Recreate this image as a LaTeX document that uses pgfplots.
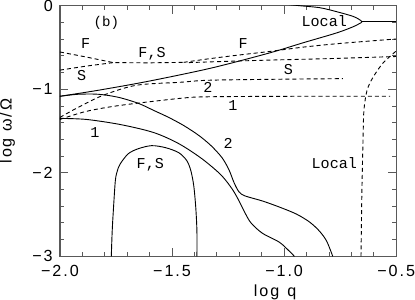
\documentclass[border=0pt]{standalone}
\usepackage{fontspec}
\setmainfont{Liberation Sans}
\newfontfamily\tickfont[LetterSpace=12]{Liberation Sans}
\newfontfamily\lblfont{Liberation Mono}
\usepackage{pgfplots}
\pgfplotsset{compat=1.18}
\newcommand{\mn}{−}
\begin{document}
\begin{tikzpicture}
\begin{axis}[
  scale only axis, width=334bp, height=249bp,
  xmin=-2, xmax=-0.5, ymin=-3, ymax=0,
  xtick={-2,-1.5,-1,-0.5}, xticklabels={{\mn2.0},{\mn1.5},{\mn1.0},{\mn0.5}},
  ytick={-3,-2,-1,0}, yticklabels={{\mn3},{\mn2},{\mn1},0},
  minor x tick num=4, minor y tick num=4,
  tick align=inside, major tick length=8bp, minor tick length=4bp,
  axis line style={black!65, line width=1.1bp},
  every tick/.style={black!65, line width=0.9bp},
  ticklabel style={font=\tickfont\fontsize{16bp}{19bp}\selectfont, inner sep=0pt},
  xticklabel style={yshift=-9bp},
  yticklabel style={xshift=-7bp},
  xlabel={log\hspace{8bp}q}, ylabel={log ω/Ω},
  label style={font=\tickfont\fontsize{16bp}{19bp}\selectfont, inner sep=0pt},
  xlabel style={at={(axis description cs:0.64,-0.1124)}, anchor=north},
  ylabel style={at={(axis description cs:-0.156,0.5)}, anchor=center},
]
% solid curves
\addplot[black, line width=0.9bp, smooth, tension=0.5] coordinates {
(-2.000,-1.084) (-1.829,-1.012) (-1.605,-0.904) (-1.326,-0.747) (-1.066,-0.566)
(-0.918,-0.446) (-0.765,-0.325) (-0.693,-0.253) (-0.666,-0.217) (-0.653,-0.193)
(-0.666,-0.163) (-0.693,-0.127) (-0.765,-0.072) (-0.841,-0.024) (-0.931,0.0) (-1.0,0.02)};
\addplot[black, line width=0.9bp] coordinates {(-0.653,-0.193) (-0.5,-0.193)};
\addplot[black, line width=0.9bp, smooth, tension=0.5] coordinates {
(-2.000,-1.084) (-1.919,-1.060) (-1.829,-1.060) (-1.740,-1.096) (-1.650,-1.169)
(-1.582,-1.253) (-1.515,-1.337) (-1.448,-1.434) (-1.380,-1.554) (-1.326,-1.675)
(-1.277,-1.819) (-1.246,-1.964) (-1.223,-2.120) (-1.201,-2.229) (-1.174,-2.277)
(-1.097,-2.337) (-1.021,-2.410) (-0.945,-2.494) (-0.886,-2.590) (-0.842,-2.699)
(-0.810,-2.819) (-0.783,-3.000)};
\addplot[black, line width=0.9bp, smooth, tension=0.5] coordinates {
(-2.000,-1.349) (-1.883,-1.361) (-1.731,-1.422) (-1.582,-1.518) (-1.470,-1.651)
(-1.367,-1.831) (-1.282,-2.024) (-1.232,-2.193) (-1.201,-2.337) (-1.174,-2.482)
(-1.147,-2.602) (-1.097,-2.723) (-1.021,-2.831) (-0.976,-2.940) (-0.954,-3.000)};
\addplot[black, line width=0.9bp, smooth, tension=0.5] coordinates {
(-1.771,-3.000) (-1.767,-2.699) (-1.762,-2.458) (-1.753,-2.096) (-1.744,-1.976)
(-1.731,-1.892) (-1.695,-1.771) (-1.650,-1.711) (-1.591,-1.675) (-1.529,-1.699)
(-1.470,-1.759) (-1.434,-1.855) (-1.416,-1.976) (-1.403,-2.157) (-1.394,-2.422)
(-1.389,-2.699) (-1.389,-3.000)};
% dashed curves
\addplot[black, line width=0.9bp, dash pattern=on 4bp off 3bp] coordinates {
(-2,-0.554) (-1.883,-0.614) (-1.762,-0.681) (-1.605,-0.684) (-1.448,-0.678)};
\addplot[black, line width=0.9bp, dash pattern=on 4bp off 3bp, smooth, tension=0.5] coordinates {
(-1.448,-0.678) (-1.335,-0.635) (-1.201,-0.590) (-1.066,-0.548) (-0.909,-0.494)
(-0.752,-0.452) (-0.5,-0.398)};
\addplot[black, line width=0.9bp, dash pattern=on 4bp off 3bp] coordinates {
(-2,-0.771) (-1.883,-0.723) (-1.762,-0.681)};
\addplot[black, line width=0.9bp, dash pattern=on 4bp off 3bp, smooth, tension=0.5] coordinates {
(-1.425,-0.681) (-1.291,-0.669) (-1.066,-0.651) (-0.797,-0.633) (-0.5,-0.608)};
\addplot[black, line width=0.9bp, dash pattern=on 4bp off 3bp, smooth, tension=0.5] coordinates {
(-2,-1.337) (-1.919,-1.217) (-1.807,-1.072) (-1.659,-0.952) (-1.461,-0.916)
(-1.335,-0.892) (-1.021,-0.880) (-0.738,-0.873)};
\addplot[black, line width=0.9bp, dash pattern=on 4bp off 3bp, smooth, tension=0.5] coordinates {
(-2,-1.361) (-1.883,-1.265) (-1.731,-1.193) (-1.461,-1.108) (-1.335,-1.090)
(-0.931,-1.084) (-0.527,-1.084)};
\addplot[black, line width=0.9bp, dash pattern=on 4bp off 3bp, smooth, tension=0.5] coordinates {
(-0.657,-3.0) (-0.653,-2.217) (-0.648,-1.614) (-0.644,-1.253) (-0.630,-1.012)
(-0.603,-0.855) (-0.559,-0.687) (-0.5,-0.542)};
% labels
\begin{scope}[every node/.style={font=\lblfont\fontsize{15bp}{18bp}\selectfont, anchor=base, inner sep=0pt}]
\node[font=\lblfont\fontsize{14bp}{16bp}\selectfont] at (axis cs:-1.793,-0.249) {(b)};
\node at (axis cs:-1.885,-0.510) {F};
\node at (axis cs:-1.589,-0.623) {F,S};
\node at (axis cs:-1.903,-0.900) {S};
\node at (axis cs:-1.844,-1.574) {1};
\node at (axis cs:-1.597,-1.944) {F,S};
\node at (axis cs:-1.183,-0.510) {F};
\node at (axis cs:-0.981,-0.819) {S};
\node at (axis cs:-1.340,-1.044) {2};
\node at (axis cs:-1.228,-1.253) {1};
\node at (axis cs:-1.250,-1.715) {2};
\node at (axis cs:-0.821,-0.249) {Local};
\node at (axis cs:-0.776,-1.944) {Local};
\end{scope}
\end{axis}
\end{tikzpicture}
\end{document}
